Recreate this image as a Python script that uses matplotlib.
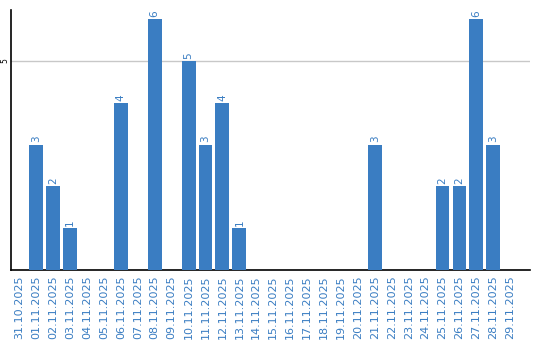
import matplotlib
matplotlib.use('Agg')
import matplotlib.pyplot as plt

# Data
dates = ['31.10.2025'] + [f'{d:02d}.11.2025' for d in range(1, 30)]
counts = {
    '01.11.2025': 3, '02.11.2025': 2, '03.11.2025': 1, '06.11.2025': 4,
    '08.11.2025': 6, '10.11.2025': 5, '11.11.2025': 3, '12.11.2025': 4,
    '13.11.2025': 1, '21.11.2025': 3, '25.11.2025': 2, '26.11.2025': 2,
    '27.11.2025': 6, '28.11.2025': 3,
}
values = [counts.get(d, 0) for d in dates]

blue = '#3a7dc2'

fig = plt.figure(figsize=(5.4, 3.4), dpi=100)
ax = fig.add_axes([0.02, 0.206, 0.961, 0.765])

x = list(range(len(dates)))
bars = ax.bar(x, values, width=0.82, color=blue, zorder=3)
for xi, v in zip(x, values):
    if v > 0:
        ax.text(xi, v + 0.05, str(v), rotation=90, ha='center', va='bottom',
                color=blue, fontsize=7.5)

ax.set_xlim(-0.5, 30.15)
ax.set_ylim(0, 6.22)
ax.set_yticks([5])
ax.set_yticklabels(['5'], rotation=90, va='center', fontsize=5.5)
ax.tick_params(axis='y', length=0, pad=1)
ax.axhline(5, color='#c8c8c8', lw=1, zorder=1)

ax.set_xticks(x)
ax.set_xticklabels(dates, rotation=90, color=blue, fontsize=8)
ax.tick_params(axis='x', length=0, pad=4)

for s in ['top', 'right']:
    ax.spines[s].set_visible(False)
ax.spines['left'].set_color('black')
ax.spines['bottom'].set_color('black')
ax.spines['left'].set_linewidth(1.2)
ax.spines['bottom'].set_linewidth(1.2)

fig.savefig('out.png', dpi=100)
